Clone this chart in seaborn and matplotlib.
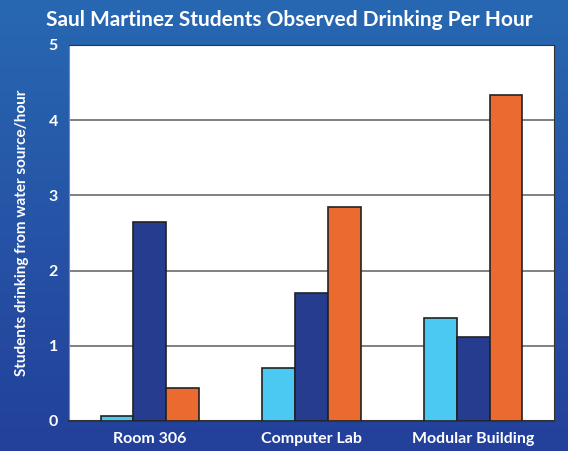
import numpy as np
import pandas as pd
import matplotlib
matplotlib.use("Agg")
import matplotlib.pyplot as plt
import seaborn as sns

locations = ["Room 306", "Computer Lab", "Modular Building"]
series = ["Series 1", "Series 2", "Series 3"]
series_1 = [0.06, 0.70, 1.37]
series_2 = [2.65, 1.70, 1.12]
series_3 = [0.44, 2.84, 4.34]
colors = ["#4cc9f2", "#263c8f", "#ea6a30"]

df = pd.DataFrame({
    "location": locations * 3,
    "series": [s for s in series for _ in locations],
    "value": series_1 + series_2 + series_3,
})

sns.set_style("white")
plt.rcParams["font.family"] = ["Lato", "DejaVu Sans"]

fig = plt.figure(figsize=(5.68, 4.51), dpi=100)

# blue gradient background
bg = fig.add_axes([0, 0, 1, 1], zorder=0)
grad = np.linspace(0, 1, 256).reshape(-1, 1)
cmap = matplotlib.colors.LinearSegmentedColormap.from_list("bg", ["#2868b2", "#23409a"])
bg.imshow(grad, aspect="auto", cmap=cmap, extent=[0, 1, 0, 1], origin="upper")
bg.set_axis_off()

ax = fig.add_axes([69 / 568, 1 - 421 / 451, 485 / 568, 376 / 451], zorder=1)
sns.barplot(data=df, x="location", y="value", hue="series", palette=colors,
            saturation=1, width=0.61, edgecolor="#222222", linewidth=1.2,
            legend=False, ax=ax, zorder=3)

ax.set_facecolor("white")
ax.set_ylim(0, 5)
ax.set_yticks([0, 1, 2, 3, 4, 5])
ax.grid(axis="y", color="#808080", linewidth=1.4, zorder=0)
ax.set_axisbelow(True)
for side in ["top", "right", "left", "bottom"]:
    ax.spines[side].set_visible(True)
ax.spines["top"].set_color("#333333")
ax.spines["right"].set_color("#333333")
ax.spines["left"].set_color("#888888")
ax.spines["bottom"].set_color("#333333")
ax.spines["bottom"].set_linewidth(1.5)

ax.tick_params(axis="both", colors="white", labelsize=11.5, length=0, pad=8)
for lab in ax.get_xticklabels() + ax.get_yticklabels():
    lab.set_fontweight("bold")
ax.set_xlabel("")
ax.set_ylabel("Students drinking from water source/hour", color="white",
              fontsize=11, fontweight="bold", labelpad=14)

fig.text(0.51, 0.955, "Saul Martinez Students Observed Drinking Per Hour",
         color="white", fontsize=15, fontweight="bold", ha="center", va="center")

fig.savefig("out.png", dpi=100)
